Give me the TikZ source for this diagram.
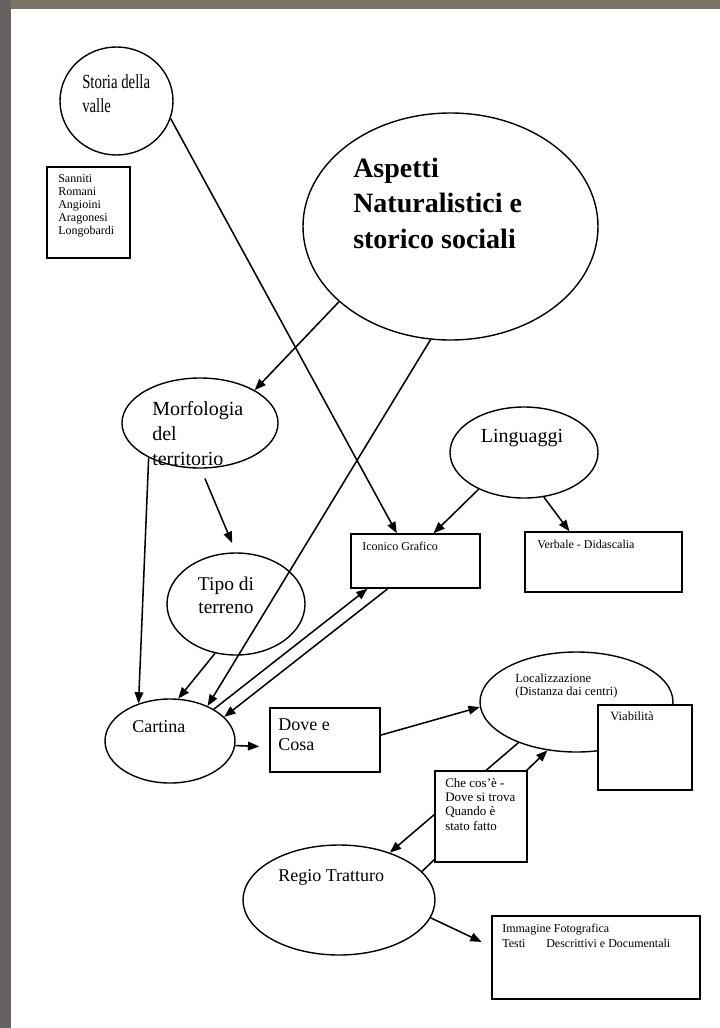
\documentclass[tikz,border=0pt]{standalone}
\usepackage{fontspec}
\setmainfont{Liberation Serif}
\newfontfamily\narrowserif[FakeStretch=0.74]{Liberation Serif}
\usetikzlibrary{shapes.geometric,arrows.meta}
\definecolor{framegray}{HTML}{7B7268}
\definecolor{leftgray}{HTML}{656260}
\tikzset{
  ell/.style 2 args={draw, ellipse, minimum width=#1*0.75pt, minimum height=#2*0.75pt, inner sep=0pt, line width=1.05pt},
  box/.style 2 args={draw, fill=white, rectangle, minimum width=#1*0.75pt, minimum height=#2*0.75pt, inner sep=0pt, line width=1.05pt},
  txt/.style={anchor=base west, align=left, inner sep=0pt},
  ctxt/.style={anchor=base, align=center, inner sep=0pt},
  arr/.style={-{Triangle[length=8.5pt,width=6.5pt]}, line width=1.15pt},
}
\begin{document}
\begin{tikzpicture}[x=0.75pt,y=-0.75pt]
\useasboundingbox (0,0) rectangle (720,1028);
\fill[white] (0,0) rectangle (720,1028);
\fill[framegray] (0,0) rectangle (720,9);
\fill[leftgray] (0,0) rectangle (11,1028);

% ellipses
\node[ell={113}{108}] (storia) at (116.5,101) {};
\node[ell={295}{227}] (aspetti) at (450.5,226.5) {};
\node[ell={156}{90}] (morf) at (200,423) {};
\node[ell={148}{91}] (ling) at (524,452.5) {};
\node[ell={138}{102}] (tipo) at (236,604) {};
\node[ell={130}{84}] (cartina) at (170,741) {};
\node[ell={193}{100}] (loc) at (576.5,702) {};
\node[ell={192}{110}] (regio) at (339,900) {};

% boxes
\node[box={83}{91}] (sanniti) at (88.5,212.5) {};
\node[box={129}{54}] (iconico) at (415.5,561) {};
\node[box={157}{60}] (verbale) at (603.5,562) {};
\node[box={110}{64}] (dove) at (325,740) {};
\node[box={94}{85}] (viab) at (645,747.5) {};
\node[box={208}{83}] (immag) at (596,957.5) {};

% connectors
\draw[arr] (storia.-18.3) -- (iconico.124.3);
\draw[arr] (aspetti.-146.5) -- (morf.31.1);
\draw[arr] (aspetti.-100) -- (cartina.43.5);
\draw[arr] (morf.-146) -- (cartina.130.7);
\draw[arr, shorten <=8pt, shorten >=7.5pt] (morf.-89) -- (tipo.90);
\draw[arr] (tipo.-113.2) -- (cartina.79.5);
\draw[arr] (cartina.36.3) -- (iconico.-150.9);
\draw[arr] (iconico.-135.5) -- (cartina.24.5);
\draw[arr] (ling.-141.4) -- (iconico.57);
\draw[arr] (ling.-66.4) -- (verbale.138.2);
\draw[arr, shorten >=7.5pt] (cartina.-4.4) -- (dove.-173.8);
\draw[arr] (dove.5.2) -- (loc.-177);
\draw[arr] (loc.-145.6) -- (regio.43.3);
\draw[arr] (regio.19.5) -- (loc.-121.7);
\draw[arr, shorten >=8pt] (regio.-11.4) -- (immag.174.6);

\node[box={92}{91}] (checos) at (481,816.5) {};

% texts (multi-line nodes are placed at the baseline of their last line)
\node[txt, font=\narrowserif\fontsize{15}{18}\selectfont] (storiaT) at (82,112) {Storia della\\valle};
\node[txt, font=\bfseries\fontsize{21}{26.5}\selectfont] (aspettiT) at (353,248) {Aspetti\\Naturalistici e\\storico sociali};
\node[txt, font=\fontsize{9}{9.75}\selectfont] (sanniT) at (58,234) {Sanniti\\Romani\\Angioini\\Aragonesi\\Longobardi};
\node[txt, font=\fontsize{15}{18.75}\selectfont] (morfT) at (152,465) {Morfologia\\del\\territorio};
\node[ctxt, font=\fontsize{15}{18}\selectfont] (lingT) at (522,442) {Linguaggi};
\node[txt, font=\fontsize{9}{11}\selectfont] (iconicoT) at (362,550) {Iconico Grafico};
\node[txt, font=\fontsize{9}{11}\selectfont] (verbaleT) at (537,548) {Verbale - Didascalia};
\node[ctxt, font=\fontsize{14.6}{17.25}\selectfont] (tipoT) at (226,613) {Tipo di\\terreno};
\node[txt, font=\fontsize{13.5}{16}\selectfont] (cartinaT) at (132,732) {Cartina};
\node[txt, font=\fontsize{13.5}{15}\selectfont] (doveT) at (278,750) {Dove e\\Cosa};
\node[txt, font=\fontsize{9.4}{9.75}\selectfont] (locT) at (515,695) {Localizzazione\\(Distanza dai centri)};
\node[txt, font=\fontsize{9.5}{11}\selectfont] (viabT) at (610,720) {Viabilità};
\node[txt, font=\fontsize{9.75}{10.75}\selectfont] (checosT) at (445,830) {Che cos’è -\\Dove si trova\\Quando è\\stato fatto};
\node[txt, font=\fontsize{13.5}{16}\selectfont] (regioT) at (278,881) {Regio Tratturo};
\node[txt, font=\fontsize{9}{11.25}\selectfont] (immagT) at (502,947) {Immagine Fotografica\\\makebox[33pt][l]{Testi}Descrittivi e Documentali};
\end{tikzpicture}
\end{document}
